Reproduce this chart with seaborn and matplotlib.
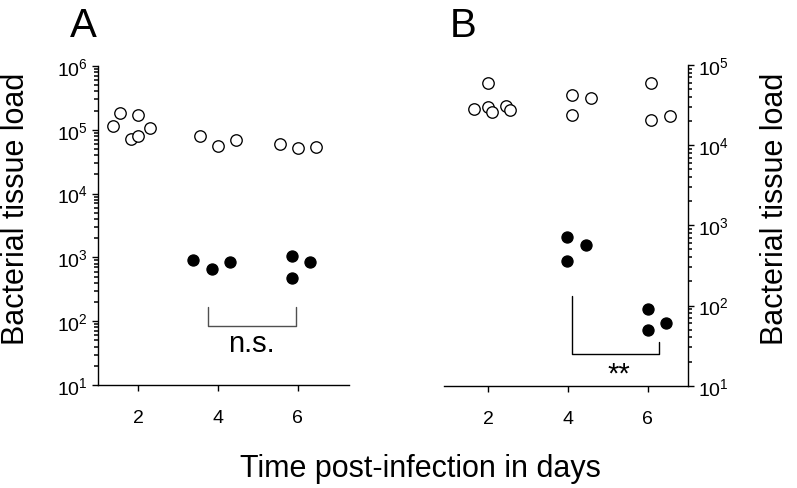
import numpy as np
import pandas as pd
import matplotlib
matplotlib.use("Agg")
import matplotlib.pyplot as plt
from matplotlib.ticker import NullFormatter
import seaborn as sns

# Data (x = day incl. horizontal spread, y = bacterial load)
a_open_day = [1.37, 1.54, 1.83, 2.00, 1.99, 2.29, 3.54, 3.99, 4.45, 5.56, 6.00, 6.47]
a_open_load = [114000, 182000, 72400, 79400, 170000, 107000,
               81300, 56200, 69200, 58900, 52500, 53700]
a_closed_day = [3.38, 3.84, 4.30, 5.86, 6.31, 5.86]
a_closed_load = [912, 661, 832, 1047, 851, 468]

b_open_day = [2.00, 1.64, 2.00, 2.10, 2.45, 2.56, 4.11, 4.57, 4.11, 6.09, 6.09, 6.55]
b_open_load = [59700, 28200, 30200, 25700, 30900, 27500,
               42700, 38900, 24000, 60300, 20900, 22900]
b_closed_day = [3.99, 4.45, 3.99, 6.00, 6.46, 6.00]
b_closed_load = [723, 570, 356, 90, 60, 50]

days = [2, 4, 6]

# significance brackets
a_bracket_x = [3.76, 3.76, 5.95, 5.95]
a_bracket_y = [166, 85, 85, 166]
b_bracket_x = [4.11, 4.11, 6.29, 6.29]
b_bracket_y = [131, 24.9, 24.9, 34.7]

sns.set_style("ticks")
plt.rcParams['font.family'] = ['Liberation Sans', 'DejaVu Sans']
plt.rcParams['mathtext.default'] = 'regular'
for key in ['text.color', 'axes.labelcolor', 'xtick.color', 'ytick.color', 'axes.edgecolor']:
    plt.rcParams[key] = 'black'

fig = plt.figure(figsize=(7.97, 4.89), dpi=100)
W, H = 797, 489
ax_a = fig.add_axes([98 / W, 1 - 386 / H, 251 / W, 319 / H])
ax_b = fig.add_axes([444.3 / W, 1 - 386.7 / H, 244 / W, 320.7 / H])


def draw_points(ax, xo, yo, xc, yc):
    sns.scatterplot(x=xo, y=yo, ax=ax, color='white', edgecolor='black',
                    linewidth=0.95, s=68, zorder=3, clip_on=False)
    sns.scatterplot(x=xc, y=yc, ax=ax, color='black', edgecolor='black',
                    linewidth=0.9, s=64, zorder=3, clip_on=False)


draw_points(ax_a, a_open_day, a_open_load, a_closed_day, a_closed_load)
draw_points(ax_b, b_open_day, b_open_load, b_closed_day, b_closed_load)

ax_a.plot(a_bracket_x, a_bracket_y, color='#505050', lw=1.0)
ax_a.text(4.85, 34, 'n.s.', ha='center', va='baseline', fontsize=21)
ax_b.plot(b_bracket_x, b_bracket_y, color='black', lw=1.0)
ax_b.text(5.28, 11.3, '**', ha='center', va='baseline', fontsize=21)


def style_axis(ax, top_exp):
    ax.set_yscale('log')
    ax.set_ylim(10, 10 ** top_exp)
    ax.set_yticks([10.0 ** e for e in range(1, top_exp + 1)])
    ax.set_yticks([m * 10.0 ** e for e in range(1, top_exp) for m in range(2, 10)],
                  minor=True)
    ax.yaxis.set_minor_formatter(NullFormatter())
    ax.set_xticks(days)
    ax.set_xticklabels([str(d) for d in days])
    ax.tick_params(axis='x', length=4.3, width=1, pad=13, labelsize=14)
    ax.tick_params(axis='y', which='major', length=4.2, width=1, pad=3, labelsize=14)
    ax.set_xlabel('')
    ax.set_ylabel('')
    for sp in ax.spines.values():
        sp.set_linewidth(1.0)
        sp.set_color('black')


style_axis(ax_a, 6)
ax_a.set_xlim(0.99, 7.29)
sns.despine(ax=ax_a)
ax_a.tick_params(axis='y', which='minor', left=True, right=False,
                 length=3.2, width=1.1, color='black')

style_axis(ax_b, 5)
ax_b.set_xlim(0.9, 7.02)
sns.despine(ax=ax_b, left=True, right=False)
ax_b.yaxis.tick_right()
ax_b.tick_params(axis='y', which='both', left=False, right=True)
ax_b.tick_params(axis='y', which='minor', length=3.2, width=1.1, color='black')

fig.text(83 / W, 1 - 26 / H, 'A', ha='center', va='center', fontsize=29)
fig.text(463.5 / W, 1 - 26 / H, 'B', ha='center', va='center', fontsize=29)
fig.text(16 / W, 1 - 209 / H, 'Bacterial tissue load', rotation=90,
         ha='center', va='center', fontsize=22)
fig.text(775 / W, 1 - 209 / H, 'Bacterial tissue load', rotation=90,
         ha='center', va='center', fontsize=22)
fig.text(420.8 / W, 1 - 477 / H, 'Time post-infection in days',
         ha='center', va='baseline', fontsize=22)

fig.savefig('out.png', dpi=100)
